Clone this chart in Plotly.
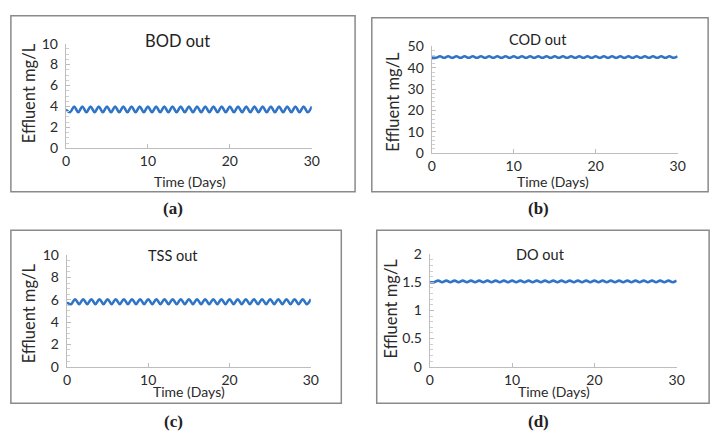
import plotly.graph_objects as go

W, H = 724, 441

# ---- data ----
time_days = [0, 0.5, 1, 1.5, 2, 2.5, 3, 3.5, 4, 4.5, 5, 5.5, 6, 6.5, 7, 7.5, 8, 8.5, 9, 9.5,
             10, 10.5, 11, 11.5, 12, 12.5, 13, 13.5, 14, 14.5, 15, 15.5, 16, 16.5, 17, 17.5,
             18, 18.5, 19, 19.5, 20, 20.5, 21, 21.5, 22, 22.5, 23, 23.5, 24, 24.5, 25, 25.5,
             26, 26.5, 27, 27.5, 28, 28.5, 29, 29.5, 30]

bod_out = [3.7, 3.45, 4.0, 3.45, 4.0, 3.45, 4.0, 3.45, 4.0, 3.45, 4.0, 3.45, 4.0, 3.45, 4.0,
           3.45, 4.0, 3.45, 4.0, 3.45, 4.0, 3.45, 4.0, 3.45, 4.0, 3.45, 4.0, 3.45, 4.0, 3.45,
           4.0, 3.45, 4.0, 3.45, 4.0, 3.45, 4.0, 3.45, 4.0, 3.45, 4.0, 3.45, 4.0, 3.45, 4.0,
           3.45, 4.0, 3.45, 4.0, 3.45, 4.0, 3.45, 4.0, 3.45, 4.0, 3.45, 4.0, 3.45, 4.0, 3.45, 4.0]

cod_out = [44.8, 44.7, 45.4, 44.7, 45.4, 44.7, 45.4, 44.7, 45.4, 44.7, 45.4, 44.7, 45.4, 44.7,
           45.4, 44.7, 45.4, 44.7, 45.4, 44.7, 45.4, 44.7, 45.4, 44.7, 45.4, 44.7, 45.4, 44.7,
           45.4, 44.7, 45.4, 44.7, 45.4, 44.7, 45.4, 44.7, 45.4, 44.7, 45.4, 44.7, 45.4, 44.7,
           45.4, 44.7, 45.4, 44.7, 45.4, 44.7, 45.4, 44.7, 45.4, 44.7, 45.4, 44.7, 45.4, 44.7,
           45.4, 44.7, 45.4, 44.7, 45.4]

tss_out = [5.75, 5.6, 6.05, 5.6, 6.05, 5.6, 6.05, 5.6, 6.05, 5.6, 6.05, 5.6, 6.05, 5.6, 6.05,
           5.6, 6.05, 5.6, 6.05, 5.6, 6.05, 5.6, 6.05, 5.6, 6.05, 5.6, 6.05, 5.6, 6.05, 5.6,
           6.05, 5.6, 6.05, 5.6, 6.05, 5.6, 6.05, 5.6, 6.05, 5.6, 6.05, 5.6, 6.05, 5.6, 6.05,
           5.6, 6.05, 5.6, 6.05, 5.6, 6.05, 5.6, 6.05, 5.6, 6.05, 5.6, 6.05, 5.6, 6.05, 5.6, 6.05]

do_out = [1.50, 1.50, 1.53, 1.50, 1.53, 1.50, 1.53, 1.50, 1.53, 1.50, 1.53, 1.50, 1.53, 1.50,
          1.53, 1.50, 1.53, 1.50, 1.53, 1.50, 1.53, 1.50, 1.53, 1.50, 1.53, 1.50, 1.53, 1.50,
          1.53, 1.50, 1.53, 1.50, 1.53, 1.50, 1.53, 1.50, 1.53, 1.50, 1.53, 1.50, 1.53, 1.50,
          1.53, 1.50, 1.53, 1.50, 1.53, 1.50, 1.53, 1.50, 1.53, 1.50, 1.53, 1.50, 1.53, 1.50,
          1.53, 1.50, 1.53, 1.50, 1.53]

panel_titles = ["BOD out", "COD out", "TSS out", "DO out"]
panel_letters = ["(a)", "(b)", "(c)", "(d)"]
y_ranges = [[0, 10], [0, 50], [0, 10], [0, 2]]
y_dticks = [2, 10, 2, 0.5]
x_ticks = [0, 10, 20, 30]
x_title = "Time (Days)"
y_title = "Effluent mg/L"

# ---- layout geometry (pixels) ----
plot_px = [  # x0, x1, ytop, ybottom
    (63, 313, 36, 145),
    (435, 685, 39, 150),
    (64, 312, 256, 372),
    (433, 684, 255, 372),
]
box_px = [(7, 357, 7, 190), (374, 716, 9, 190), (7, 343, 230, 410), (379, 717, 230, 410)]
title_px = [(176, 33), (543, 32), (172, 256), (546, 255)]
title_size = [16.5, 14.5, 14.5, 14.5]
xtitle_px = [(189, 179), (558, 179), (188, 398), (559, 398)]
ytitle_px = [(25, 88), (396, 96), (25, 317), (394, 311)]
letter_px = [(172, 208), (544, 208), (172, 429), (544, 429)]

def px(x):
    return x / W

def py(y):
    return 1 - y / H

series = [bod_out, cod_out, tss_out, do_out]
FONT = "Lato, Open Sans, sans-serif"
AX = "#bdbdbd"

fig = go.Figure()
layout = dict(
    width=W, height=H, margin=dict(l=0, r=0, t=0, b=0),
    paper_bgcolor="white", plot_bgcolor="white", showlegend=False,
    font=dict(family=FONT, size=14, color="#2a2a2a"),
    shapes=[], annotations=[],
)

def note(text, x, y, **kw):
    d = dict(text=text, x=px(x), y=py(y), xref="paper", yref="paper",
             xanchor="center", yanchor="middle", showarrow=False)
    d.update(kw)
    layout["annotations"].append(d)

for i in range(4):
    sfx = "" if i == 0 else str(i + 1)
    fig.add_trace(go.Scatter(
        x=time_days, y=series[i], mode="lines",
        line=dict(color="#2f74c6", width=2.6, shape="spline", smoothing=1.0),
        xaxis="x" + sfx, yaxis="y" + sfx, hoverinfo="skip",
    ))
    x0, x1, yt, yb = plot_px[i]
    layout["xaxis" + sfx] = dict(
        domain=[px(x0), px(x1)], anchor="y" + sfx, range=[0, 30],
        tickvals=x_ticks, showgrid=False, zeroline=False,
        showline=True, linecolor=AX, linewidth=1.3,
        ticks="inside", ticklen=4, tickcolor=AX,
        tickfont=dict(size=14, color="#2a2a2a"),
    )
    layout["yaxis" + sfx] = dict(
        domain=[py(yb), py(yt)], anchor="x" + sfx, range=y_ranges[i],
        dtick=y_dticks[i], showgrid=False, zeroline=False,
        showline=True, linecolor=AX, linewidth=1.3,
        ticks="inside", ticklen=4, tickcolor=AX,
        minor=dict(ticks="inside", ticklen=3, tickcolor="#cfcfcf", nticks=8),
        tickfont=dict(size=14, color="#2a2a2a"), ticklabelstandoff=4,
    )
    bx0, bx1, by0, by1 = box_px[i]
    layout["shapes"].append(dict(
        type="rect", xref="paper", yref="paper",
        x0=px(bx0), x1=px(bx1), y0=py(by1), y1=py(by0),
        line=dict(color="#8a8a8a", width=1.5), layer="below",
    ))
    note(panel_titles[i], *title_px[i], font=dict(size=title_size[i], color="#222222"))
    note(x_title, *xtitle_px[i], font=dict(size=14, color="#2a2a2a"))
    note(y_title, *ytitle_px[i], textangle=-90, font=dict(size=16.5, color="#2a2a2a"))
    note("<b>" + panel_letters[i] + "</b>", *letter_px[i],
         font=dict(family="Liberation Serif, DejaVu Serif, serif", size=17, color="#222222"))

fig.update_layout(**layout)
fig.write_html(
    "out.html",
    config={"displayModeBar": False},
    post_script="document.body.style.margin='0';document.body.style.overflow='hidden';",
)
